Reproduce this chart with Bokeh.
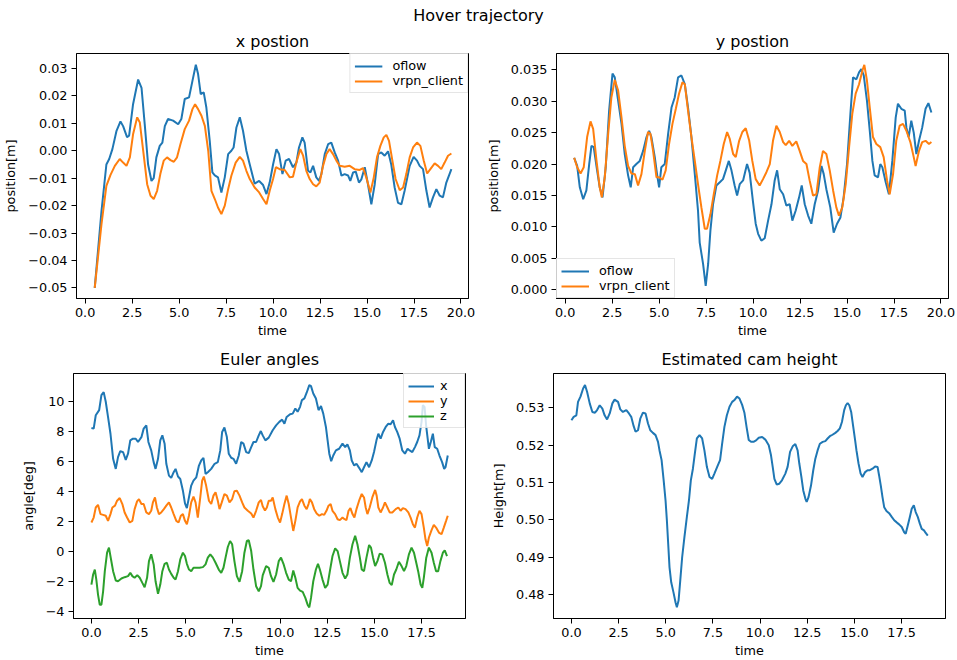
from bokeh.plotting import figure
from bokeh.layouts import column, row
from bokeh.models import Div, FixedTicker, Range1d
from bokeh.embed import file_html
from bokeh.resources import INLINE

BLUE = "#1f77b4"
ORANGE = "#ff7f0e"
GREEN = "#2ca02c"
FONT = "DejaVu Sans"

# ---------------- data: x position ----------------
xpos_oflow_t = [0.51, 0.87, 1.13, 1.28, 1.45, 1.67, 1.88, 2.02, 2.23, 2.34, 2.55, 2.82, 3.00, 3.17, 3.35, 3.53, 3.65, 3.79, 3.97, 4.11,
                4.24, 4.41, 4.68, 4.95, 5.12, 5.30, 5.53, 5.71, 5.89, 6.01, 6.15, 6.31, 6.45, 6.63, 6.77, 6.90, 7.07, 7.25, 7.43, 7.61,
                7.78, 7.90, 8.05, 8.23, 8.40, 8.58, 8.76, 9.02, 9.26, 9.47, 9.65, 9.82, 10.00, 10.18, 10.32, 10.50, 10.67, 10.85, 11.06, 11.24,
                11.38, 11.56, 11.68, 11.86, 11.99, 12.13, 12.30, 12.45, 12.57, 12.75, 12.93, 13.10, 13.28, 13.46, 13.64, 13.81, 13.99, 14.11, 14.26, 14.40,
                14.57, 14.70, 14.88, 15.05, 15.23, 15.41, 15.59, 15.76, 15.94, 16.12, 16.29, 16.47, 16.65, 16.83, 17.00, 17.27, 17.48, 17.66, 17.80, 17.98,
                18.16, 18.33, 18.51, 18.69, 18.87, 19.04, 19.22, 19.49]
xpos_oflow = [-0.050, -0.022, -0.005, -0.003, 0.0006, 0.0073, 0.0107, 0.009, 0.005, 0.0055, 0.017, 0.026, 0.023, 0.0097, -0.005, -0.011, -0.010, -0.0024, 0.0018, 0.003,
              0.009, 0.0116, 0.011, 0.0097, 0.0116, 0.0189, 0.0195, 0.0255, 0.0314, 0.028, 0.0207, 0.0213, 0.0158, 0.0036, -0.0079, -0.009, -0.0097, -0.0152, -0.0097, -0.0012,
              0.0, 0.0012, 0.0085, 0.0122, 0.0073, 0.0, -0.005, -0.012, -0.011, -0.0125, -0.0158, -0.0116, -0.005, 0.0006, -0.0012, -0.0085, -0.0036, -0.003, -0.006, -0.0043,
              0.0012, 0.0049, 0.003, -0.0073, -0.0079, -0.0055, -0.0097, -0.011, -0.0085, -0.0012, 0.0024, 0.003, -0.0006, -0.0036, -0.0091, -0.0085, -0.009, -0.011, -0.0079, -0.0076,
              -0.0116, -0.0104, -0.006, -0.0122, -0.0195, -0.0122, -0.0012, -0.0006, -0.0018, -0.0002, -0.005, -0.0134, -0.019, -0.0195, -0.0146, -0.0055, -0.0022, -0.0036, -0.0055, -0.0067,
              -0.0146, -0.0207, -0.017, -0.014, -0.0164, -0.017, -0.0116, -0.0067]

xpos_vrpn_t = [0.51, 0.87, 1.13, 1.35, 1.58, 1.84, 2.02, 2.20, 2.38, 2.55, 2.77, 2.91, 3.09, 3.30, 3.48, 3.65, 3.83, 4.00, 4.18, 4.36,
               4.54, 4.72, 4.89, 5.07, 5.30, 5.53, 5.71, 5.85, 6.01, 6.19, 6.37, 6.55, 6.72, 6.90, 7.07, 7.25, 7.43, 7.61, 7.78, 8.01,
               8.23, 8.40, 8.58, 8.76, 9.02, 9.26, 9.47, 9.65, 9.82, 10.00, 10.15, 10.35, 10.62, 10.89, 11.06, 11.24, 11.45, 11.60, 11.77, 11.95,
               12.13, 12.30, 12.48, 12.66, 12.84, 13.01, 13.19, 13.37, 13.55, 13.81, 14.08, 14.34, 14.61, 14.79, 14.96, 15.18, 15.36, 15.53, 15.71, 15.89,
               16.03, 16.17, 16.35, 16.52, 16.74, 16.92, 17.09, 17.27, 17.45, 17.66, 17.84, 18.02, 18.20, 18.37, 18.60, 18.78, 18.95, 19.13, 19.31, 19.49]
xpos_vrpn = [-0.050, -0.0268, -0.0128, -0.0088, -0.0055, -0.003, -0.0043, -0.0055, -0.0024, 0.006, 0.0122, 0.0103, 0.0, -0.0122, -0.0164, -0.0176, -0.0146, -0.0085, -0.0036, -0.0024,
             -0.0034, -0.004, -0.0024, 0.0024, 0.0079, 0.011, 0.0152, 0.017, 0.0152, 0.0128, 0.0091, 0.0, -0.0146, -0.0176, -0.0207, -0.0231, -0.020, -0.014, -0.0091, -0.0043,
             -0.0022, -0.0036, -0.0073, -0.0103, -0.0134, -0.0152, -0.0176, -0.0195, -0.0146, -0.0103, -0.006, -0.0067, -0.007, -0.0097, -0.0095, -0.0043, 0.0006, -0.0018, -0.0073, -0.0103,
             -0.0122, -0.013, -0.0116, -0.0055, -0.0012, 0.0006, -0.0012, -0.0036, -0.0055, -0.0058, -0.0055, -0.0067, -0.007, -0.0063, -0.0097, -0.0152, -0.0097, -0.0024, 0.0018, 0.0049,
             0.0058, 0.0036, -0.0036, -0.0103, -0.0144, -0.0134, -0.0085, -0.0024, 0.0012, 0.003, 0.0018, -0.0036, -0.0083, -0.0067, -0.0046, -0.0055, -0.0067, -0.0043, -0.0018, -0.001]

# ---------------- data: y position ----------------
ypos_oflow_t = [0.48, 0.64, 0.78, 0.96, 1.13, 1.28, 1.40, 1.52, 1.70, 1.84, 1.99, 2.16, 2.34, 2.52, 2.64, 2.82, 3.00, 3.17, 3.35, 3.49,
                3.62, 3.79, 3.97, 4.15, 4.33, 4.47, 4.59, 4.77, 4.89, 5.00, 5.12, 5.30, 5.48, 5.66, 5.83, 6.01, 6.19, 6.37, 6.54, 6.72,
                6.90, 7.07, 7.16, 7.34, 7.48, 7.61, 7.73, 7.87, 8.05, 8.23, 8.40, 8.55, 8.71, 8.85, 9.02, 9.15, 9.29, 9.47, 9.68, 9.82,
                10.00, 10.14, 10.27, 10.44, 10.62, 10.80, 10.98, 11.15, 11.28, 11.42, 11.60, 11.77, 11.95, 12.09, 12.27, 12.45, 12.59, 12.75, 12.93, 13.10,
                13.28, 13.46, 13.64, 13.76, 13.90, 14.11, 14.29, 14.47, 14.65, 14.82, 15.00, 15.18, 15.32, 15.50, 15.64, 15.76, 15.89, 16.06, 16.21, 16.35,
                16.47, 16.65, 16.77, 16.88, 17.06, 17.23, 17.41, 17.59, 17.71, 17.89, 18.07, 18.16, 18.28, 18.42, 18.55, 18.69, 18.83, 19.00, 19.18, 19.33, 19.49]
ypos_oflow = [0.021, 0.0197, 0.0163, 0.0144, 0.0158, 0.020, 0.0229, 0.0227, 0.019, 0.0163, 0.0147, 0.0195, 0.0285, 0.0344, 0.0338, 0.0301, 0.0264, 0.0216, 0.0182, 0.0163,
              0.0195, 0.020, 0.0205, 0.0221, 0.0243, 0.0253, 0.0243, 0.0211, 0.0184, 0.0163, 0.0195, 0.020, 0.0248, 0.029, 0.0306, 0.0338, 0.0341, 0.0327, 0.029, 0.0243,
              0.0184, 0.0126, 0.0075, 0.0041, 0.0006, 0.0041, 0.0094, 0.0136, 0.0166, 0.0171, 0.0176, 0.019, 0.0205, 0.019, 0.0166, 0.015, 0.0168, 0.0174, 0.020, 0.0186,
              0.0139, 0.0105, 0.0089, 0.0078, 0.0082, 0.011, 0.0136, 0.0174, 0.019, 0.016, 0.0152, 0.0134, 0.0136, 0.011, 0.0126, 0.0147, 0.0166, 0.0136, 0.0118, 0.0105,
              0.0136, 0.0158, 0.0197, 0.0184, 0.016, 0.0131, 0.0091, 0.0105, 0.0115, 0.0147, 0.020, 0.028, 0.0338, 0.0335, 0.0346, 0.0351, 0.0341, 0.0301, 0.0253, 0.0205,
              0.0182, 0.0179, 0.020, 0.0195, 0.0171, 0.0152, 0.0205, 0.0274, 0.0296, 0.0288, 0.0285, 0.0258, 0.0243, 0.0269, 0.025, 0.0216, 0.0237, 0.0258, 0.0288, 0.0297, 0.0282]

ypos_vrpn_t = [0.48, 0.64, 0.82, 0.99, 1.17, 1.35, 1.49, 1.67, 1.84, 1.95, 2.11, 2.29, 2.46, 2.64, 2.82, 3.00, 3.17, 3.35, 3.53, 3.71,
               3.88, 4.06, 4.24, 4.41, 4.54, 4.68, 4.86, 5.00, 5.18, 5.35, 5.53, 5.71, 5.89, 6.06, 6.24, 6.37, 6.54, 6.72, 6.90, 7.07,
               7.25, 7.43, 7.55, 7.73, 7.91, 8.09, 8.26, 8.44, 8.62, 8.76, 8.94, 9.08, 9.26, 9.43, 9.61, 9.79, 9.96, 10.14, 10.35, 10.53,
               10.71, 10.89, 11.06, 11.24, 11.42, 11.60, 11.74, 11.92, 12.09, 12.30, 12.48, 12.66, 12.84, 13.01, 13.19, 13.37, 13.55, 13.72, 13.90, 14.08,
               14.26, 14.43, 14.57, 14.75, 14.93, 15.11, 15.28, 15.46, 15.64, 15.82, 15.92, 16.06, 16.21, 16.38, 16.56, 16.77, 16.95, 17.13, 17.27, 17.45,
               17.62, 17.80, 17.98, 18.16, 18.37, 18.55, 18.65, 18.83, 19.00, 19.18, 19.36, 19.49]
ypos_vrpn = [0.021, 0.0195, 0.0185, 0.0195, 0.0243, 0.0268, 0.0256, 0.0205, 0.0163, 0.0147, 0.0179, 0.0248, 0.0306, 0.0334, 0.0317, 0.0274, 0.0229, 0.0197, 0.0185, 0.0184,
             0.0166, 0.0184, 0.0221, 0.0251, 0.0248, 0.0221, 0.0179, 0.0179, 0.0175, 0.019, 0.0232, 0.0264, 0.0288, 0.0312, 0.033, 0.0327, 0.0285, 0.0243, 0.0205, 0.0168,
             0.0131, 0.0097, 0.0097, 0.012, 0.0152, 0.0182, 0.0205, 0.0232, 0.0251, 0.024, 0.0216, 0.0211, 0.0237, 0.0251, 0.0257, 0.0238, 0.0205, 0.0176, 0.0166, 0.0176,
             0.0187, 0.020, 0.0237, 0.0261, 0.0251, 0.0235, 0.023, 0.0237, 0.0229, 0.0236, 0.0221, 0.0205, 0.020, 0.0174, 0.015, 0.0152, 0.0195, 0.0221, 0.0216, 0.019,
             0.0158, 0.0131, 0.0118, 0.0131, 0.0168, 0.0227, 0.028, 0.0312, 0.0327, 0.0349, 0.0358, 0.0333, 0.029, 0.0243, 0.0232, 0.0227, 0.0211, 0.0174, 0.0152, 0.0184,
             0.0237, 0.0261, 0.0264, 0.0253, 0.0235, 0.0211, 0.0197, 0.0221, 0.0235, 0.0237, 0.0232, 0.0235]

# ---------------- data: Euler angles ----------------
euler_x_t = [0.00, 0.12, 0.23, 0.41, 0.53, 0.65, 0.76, 0.88, 1.01, 1.15, 1.29, 1.41, 1.53, 1.68, 1.82, 1.94, 2.06, 2.20, 2.35, 2.47,
             2.65, 2.77, 2.91, 3.02, 3.17, 3.30, 3.40, 3.53, 3.65, 3.76, 3.88, 3.97, 4.11, 4.23, 4.36, 4.46, 4.59, 4.71, 4.85, 4.96,
             5.06, 5.17, 5.29, 5.41, 5.56, 5.70, 5.82, 5.94, 6.05, 6.17, 6.35, 6.53, 6.70, 6.83, 6.93, 7.05, 7.18, 7.28, 7.41, 7.53,
             7.67, 7.81, 7.94, 8.06, 8.20, 8.34, 8.47, 8.59, 8.73, 8.87, 8.98, 9.08, 9.22, 9.40, 9.61, 9.79, 9.96, 10.11, 10.23, 10.35,
             10.53, 10.67, 10.81, 10.93, 11.06, 11.16, 11.29, 11.41, 11.55, 11.64, 11.76, 11.90, 12.04, 12.17, 12.29, 12.43, 12.52, 12.61, 12.71, 12.82,
             12.96, 13.13, 13.31, 13.45, 13.57, 13.70, 13.80, 13.93, 14.05, 14.19, 14.33, 14.45, 14.58, 14.72, 14.86, 14.98, 15.11, 15.21, 15.33, 15.46,
             15.60, 15.74, 15.86, 15.99, 16.09, 16.21, 16.34, 16.48, 16.62, 16.76, 16.87, 17.01, 17.15, 17.27, 17.39, 17.50, 17.57, 17.66, 17.75, 17.89,
             17.99, 18.10, 18.20, 18.33, 18.45, 18.59, 18.70, 18.77, 18.89]
euler_x = [8.21, 8.17, 9.06, 9.40, 10.40, 10.60, 9.96, 8.95, 7.83, 6.16, 5.49, 6.27, 6.67, 6.60, 6.09, 6.50, 7.39, 7.50, 7.50, 7.28,
           7.60, 8.17, 8.39, 7.28, 6.72, 5.94, 5.49, 6.16, 7.39, 7.72, 7.17, 5.83, 5.04, 4.89, 5.27, 5.49, 4.98, 4.82, 4.04, 3.19,
           2.88, 3.59, 4.38, 4.71, 4.93, 5.71, 6.05, 6.23, 5.16, 5.27, 5.49, 5.83, 5.94, 6.72, 7.95, 8.24, 7.61, 6.50, 6.23, 6.16,
           5.83, 6.38, 7.28, 7.17, 6.61, 6.54, 6.94, 7.28, 7.28, 7.72, 8.01, 7.72, 7.39, 7.57, 8.06, 8.39, 8.62, 8.77, 8.50, 8.95,
           9.13, 9.17, 9.51, 9.29, 9.62, 10.07, 10.18, 10.56, 11.07, 11.00, 10.51, 10.18, 9.40, 9.67, 9.17, 8.28, 7.39, 6.50, 6.00, 6.38,
           6.72, 6.83, 7.17, 6.94, 7.12, 6.72, 6.05, 5.71, 5.83, 5.56, 5.27, 5.60, 5.94, 5.60, 6.05, 6.61, 7.39, 7.83, 7.50, 7.95,
           8.28, 8.50, 8.46, 8.73, 8.28, 7.95, 7.50, 6.72, 6.50, 6.83, 6.72, 6.61, 6.94, 7.28, 7.72, 8.62, 9.73, 9.62, 8.28, 6.83,
           7.28, 7.83, 6.94, 6.83, 6.38, 5.94, 5.49, 5.60, 6.38]

euler_y_t = [0.00, 0.12, 0.23, 0.35, 0.48, 0.62, 0.76, 0.88, 1.01, 1.11, 1.25, 1.36, 1.50, 1.64, 1.76, 1.89, 2.03, 2.17, 2.29, 2.42,
             2.52, 2.65, 2.77, 2.91, 3.05, 3.17, 3.26, 3.37, 3.47, 3.58, 3.70, 3.84, 3.97, 4.11, 4.23, 4.36, 4.50, 4.62, 4.74, 4.85,
             4.96, 5.06, 5.17, 5.29, 5.41, 5.52, 5.64, 5.77, 5.87, 5.96, 6.08, 6.23, 6.35, 6.47, 6.58, 6.70, 6.79, 6.91, 7.05, 7.18,
             7.32, 7.46, 7.58, 7.71, 7.85, 7.99, 8.11, 8.29, 8.47, 8.59, 8.73, 8.87, 8.99, 9.08, 9.20, 9.30, 9.40, 9.52, 9.61, 9.75,
             9.88, 10.00, 10.11, 10.23, 10.35, 10.46, 10.58, 10.70, 10.81, 10.93, 11.06, 11.16, 11.29, 11.41, 11.51, 11.58, 11.69, 11.81, 11.94, 12.08,
             12.22, 12.34, 12.46, 12.57, 12.68, 12.78, 12.92, 13.05, 13.17, 13.31, 13.42, 13.52, 13.63, 13.73, 13.84, 13.94, 14.05, 14.19, 14.33, 14.45,
             14.54, 14.63, 14.75, 14.89, 15.04, 15.12, 15.21, 15.33, 15.46, 15.56, 15.69, 15.81, 15.95, 16.13, 16.27, 16.39, 16.51, 16.65, 16.80, 16.92,
             17.04, 17.15, 17.27, 17.39, 17.50, 17.62, 17.71, 17.80, 17.89, 18.03, 18.15, 18.27, 18.42, 18.56, 18.68, 18.80, 18.89]
euler_y = [1.92, 2.25, 2.92, 3.10, 2.48, 2.43, 2.37, 2.03, 2.48, 2.92, 3.04, 3.37, 3.55, 3.15, 2.59, 2.25, 1.92, 2.03, 2.81, 3.33,
           3.48, 3.15, 3.15, 2.59, 2.48, 2.70, 3.26, 3.59, 2.92, 2.48, 2.59, 2.81, 3.04, 3.26, 2.92, 2.48, 2.03, 1.92, 2.37, 2.48,
           2.03, 1.81, 2.37, 3.26, 3.64, 3.26, 2.25, 3.59, 4.71, 4.98, 4.38, 3.37, 3.15, 3.71, 3.93, 3.37, 2.81, 3.26, 3.82, 3.71,
           3.26, 3.48, 4.00, 4.04, 3.71, 3.26, 2.92, 2.70, 2.52, 2.25, 2.70, 3.26, 3.42, 3.00, 2.72, 2.92, 3.37, 3.37, 3.59, 2.81,
           2.25, 1.92, 2.48, 3.15, 3.71, 3.15, 2.25, 1.36, 2.03, 2.92, 3.33, 3.48, 3.04, 2.81, 3.15, 3.48, 3.26, 2.81, 2.52, 2.37,
           2.48, 2.43, 2.70, 3.04, 3.15, 2.70, 2.48, 2.14, 2.08, 2.25, 2.14, 2.08, 2.70, 2.88, 2.48, 2.25, 2.81, 3.37, 3.82, 3.59,
           2.92, 2.48, 2.92, 3.59, 4.09, 3.71, 2.92, 2.59, 2.92, 3.26, 2.92, 2.59, 2.59, 2.81, 2.92, 2.70, 2.88, 2.81, 2.59, 2.25,
           1.81, 1.58, 2.25, 2.70, 2.48, 1.58, 0.80, 0.36, 0.92, 1.41, 1.76, 1.58, 1.25, 1.14, 1.58, 2.03, 2.37]

euler_z_t = [0.00, 0.09, 0.18, 0.26, 0.35, 0.44, 0.53, 0.62, 0.71, 0.83, 0.93, 1.04, 1.15, 1.29, 1.41, 1.59, 1.76, 1.94, 2.06, 2.17,
             2.29, 2.43, 2.56, 2.70, 2.82, 2.95, 3.05, 3.17, 3.30, 3.40, 3.53, 3.65, 3.76, 3.88, 4.00, 4.11, 4.23, 4.36, 4.46, 4.59,
             4.71, 4.85, 4.96, 5.06, 5.17, 5.29, 5.41, 5.56, 5.73, 5.91, 6.05, 6.17, 6.30, 6.44, 6.58, 6.75, 6.88, 7.00, 7.11, 7.23,
             7.35, 7.46, 7.58, 7.71, 7.85, 7.99, 8.11, 8.24, 8.34, 8.47, 8.59, 8.73, 8.87, 8.99, 9.08, 9.26, 9.40, 9.52, 9.65, 9.79,
             9.93, 10.05, 10.18, 10.32, 10.46, 10.58, 10.70, 10.81, 10.93, 11.06, 11.20, 11.34, 11.46, 11.55, 11.64, 11.76, 11.90, 12.01, 12.11, 12.25,
             12.39, 12.52, 12.64, 12.78, 12.92, 13.05, 13.17, 13.31, 13.45, 13.57, 13.70, 13.84, 13.98, 14.10, 14.23, 14.33, 14.45, 14.58, 14.72, 14.82,
             14.93, 15.04, 15.16, 15.28, 15.42, 15.56, 15.69, 15.81, 15.92, 16.04, 16.16, 16.30, 16.44, 16.57, 16.69, 16.83, 16.97, 17.10, 17.22, 17.32,
             17.45, 17.54, 17.62, 17.75, 17.89, 18.03, 18.15, 18.27, 18.38, 18.50, 18.63, 18.73, 18.85]
euler_z = [-2.21, -1.54, -1.21, -1.88, -2.88, -3.55, -3.55, -2.66, -1.32, -0.09, 0.25, -0.54, -1.32, -1.94, -1.99, -1.81, -1.72, -1.65, -1.43, -1.65,
           -1.76, -1.58, -1.76, -2.10, -2.39, -1.76, -0.65, -0.20, -0.87, -1.99, -2.83, -2.21, -1.32, -0.83, -0.76, -1.21, -1.50, -1.76, -1.88, -1.32,
           -0.54, -0.09, -0.31, -0.83, -1.21, -1.32, -1.09, -1.09, -1.09, -1.05, -0.87, -0.42, -0.20, -0.42, -0.76, -1.21, -1.43, -1.09, -0.42, 0.29,
           0.69, 0.47, -0.65, -1.65, -2.03, -1.32, -0.09, 0.69, 0.74, 0.02, -1.21, -2.32, -2.66, -2.32, -1.60, -0.98, -1.09, -1.65, -2.03, -1.54,
           -0.65, -0.42, -0.83, -1.43, -1.88, -1.99, -1.27, -1.76, -2.43, -2.61, -2.70, -3.10, -3.55, -3.73, -3.10, -1.99, -1.21, -0.83, -1.21, -1.88,
           -2.43, -2.21, -1.32, -0.31, 0.20, 0.02, -0.65, -1.43, -1.81, -1.54, -0.42, 0.47, 1.03, 0.47, -0.42, -1.21, -1.32, -0.42, 0.42, 0.25,
           -0.42, -0.98, -0.65, -0.16, -0.20, -0.76, -1.54, -2.10, -2.25, -1.54, -1.21, -0.69, -0.98, -1.32, -0.98, -0.20, 0.25, -0.09, -0.76, -1.32,
           -2.21, -2.43, -1.76, -0.42, 0.25, -0.09, -0.76, -1.32, -1.32, -0.65, -0.09, 0.07, -0.31]

# ---------------- data: estimated cam height ----------------
height_t = [0.00, 0.12, 0.26, 0.35, 0.48, 0.62, 0.72, 0.83, 0.97, 1.11, 1.25, 1.36, 1.50, 1.64, 1.76, 1.89, 2.03, 2.17, 2.29, 2.47,
            2.59, 2.73, 2.91, 3.05, 3.17, 3.30, 3.40, 3.53, 3.65, 3.79, 3.93, 4.06, 4.18, 4.32, 4.46, 4.59, 4.67, 4.78, 4.89, 4.99,
            5.06, 5.13, 5.20, 5.29, 5.41, 5.52, 5.59, 5.68, 5.77, 5.87, 5.99, 6.12, 6.23, 6.33, 6.44, 6.54, 6.65, 6.79, 6.93, 7.05,
            7.18, 7.32, 7.46, 7.58, 7.76, 7.88, 7.99, 8.11, 8.24, 8.38, 8.52, 8.66, 8.78, 8.91, 9.05, 9.17, 9.29, 9.40, 9.52, 9.65,
            9.79, 9.93, 10.11, 10.28, 10.46, 10.58, 10.67, 10.76, 10.88, 11.02, 11.16, 11.34, 11.46, 11.59, 11.73, 11.87, 11.99, 12.08, 12.19, 12.29,
            12.40, 12.47, 12.57, 12.70, 12.82, 12.93, 13.05, 13.17, 13.32, 13.46, 13.58, 13.70, 13.84, 13.99, 14.11, 14.23, 14.34, 14.46, 14.55, 14.64,
            14.73, 14.83, 14.94, 15.04, 15.11, 15.22, 15.33, 15.43, 15.57, 15.70, 15.82, 15.96, 16.10, 16.23, 16.31, 16.40, 16.49, 16.58, 16.70, 16.84,
            16.98, 17.11, 17.23, 17.37, 17.51, 17.64, 17.72, 17.81, 17.94, 18.04, 18.15, 18.25, 18.36, 18.47, 18.57, 18.69, 18.78, 18.89]
height = [0.5267, 0.5276, 0.5280, 0.5316, 0.5330, 0.5352, 0.5361, 0.5343, 0.5312, 0.5289, 0.5287, 0.5294, 0.5307, 0.5298, 0.5280, 0.5269, 0.5285, 0.5312, 0.5322, 0.5316,
          0.5296, 0.5289, 0.5294, 0.5285, 0.5276, 0.5251, 0.5236, 0.5240, 0.5271, 0.5287, 0.5285, 0.5258, 0.5240, 0.5233, 0.5227, 0.5209, 0.5186, 0.5160, 0.5106, 0.5052,
          0.4999, 0.4936, 0.4873, 0.4833, 0.4806, 0.4779, 0.4766, 0.4784, 0.4838, 0.4900, 0.4954, 0.5008, 0.5052, 0.5106, 0.5137, 0.5177, 0.5218, 0.5227, 0.5218, 0.5186,
          0.5142, 0.5115, 0.5110, 0.5124, 0.5146, 0.5160, 0.5204, 0.5249, 0.5280, 0.5303, 0.5316, 0.5322, 0.5330, 0.5325, 0.5308, 0.5287, 0.5247, 0.5214, 0.5209, 0.5209,
          0.5213, 0.5220, 0.5222, 0.5215, 0.5200, 0.5173, 0.5142, 0.5110, 0.5095, 0.5097, 0.5106, 0.5124, 0.5142, 0.5182, 0.5197, 0.5203, 0.5186, 0.5151, 0.5115, 0.5079,
          0.5057, 0.5048, 0.5061, 0.5092, 0.5133, 0.5164, 0.5186, 0.5204, 0.5209, 0.5211, 0.5218, 0.5224, 0.5228, 0.5233, 0.5238, 0.5245, 0.5262, 0.5294, 0.5307, 0.5313,
          0.5307, 0.5289, 0.5249, 0.5213, 0.5186, 0.5151, 0.5124, 0.5115, 0.5128, 0.5133, 0.5133, 0.5137, 0.5143, 0.5142, 0.5119, 0.5092, 0.5061, 0.5034, 0.5024, 0.5018,
          0.5008, 0.4999, 0.4994, 0.4988, 0.4981, 0.4967, 0.4963, 0.4981, 0.5008, 0.5030, 0.5039, 0.5021, 0.5008, 0.4990, 0.4976, 0.4972, 0.4965, 0.4958]

# ---------------- ticks ----------------
xt_top = [0.0, 2.5, 5.0, 7.5, 10.0, 12.5, 15.0, 17.5, 20.0]
xt_top_labels = ["0.0", "2.5", "5.0", "7.5", "10.0", "12.5", "15.0", "17.5", "20.0"]
xt_bot = [0.0, 2.5, 5.0, 7.5, 10.0, 12.5, 15.0, 17.5]
xt_bot_labels = ["0.0", "2.5", "5.0", "7.5", "10.0", "12.5", "15.0", "17.5"]
yt_xpos = [-0.05, -0.04, -0.03, -0.02, -0.01, 0.0, 0.01, 0.02, 0.03]
yt_xpos_labels = ["\u22120.05", "\u22120.04", "\u22120.03", "\u22120.02", "\u22120.01", "0.00", "0.01", "0.02", "0.03"]
yt_ypos = [0.0, 0.005, 0.01, 0.015, 0.02, 0.025, 0.03, 0.035]
yt_ypos_labels = ["0.000", "0.005", "0.010", "0.015", "0.020", "0.025", "0.030", "0.035"]
yt_euler = [-4, -2, 0, 2, 4, 6, 8, 10]
yt_euler_labels = ["\u22124", "\u22122", "0", "2", "4", "6", "8", "10"]
yt_height = [0.48, 0.49, 0.50, 0.51, 0.52, 0.53]
yt_height_labels = ["0.48", "0.49", "0.50", "0.51", "0.52", "0.53"]

TICK_FS = "12.8px"
TITLE_FS = "16px"


def make_fig(title, xr, yr, left, right, bottom, title_standoff):
    p = figure(frame_width=392, frame_height=245,
               min_border_left=left, min_border_right=right,
               min_border_top=0, min_border_bottom=bottom,
               x_range=Range1d(*xr), y_range=Range1d(*yr),
               output_backend="svg", toolbar_location=None, title=title)
    p.title.align = "center"
    p.title.text_font = FONT
    p.title.text_font_size = TITLE_FS
    p.title.text_font_style = "normal"
    p.title.text_color = "black"
    p.title.standoff = title_standoff
    p.outline_line_color = "black"
    p.outline_line_alpha = 1.0
    p.outline_line_width = 1
    p.xgrid.visible = False
    p.ygrid.visible = False
    p.background_fill_color = "white"
    p.border_fill_color = "white"
    for ax in (p.xaxis[0], p.yaxis[0]):
        ax.axis_line_color = "black"
        ax.major_tick_line_color = "black"
        ax.major_tick_out = 5
        ax.major_tick_in = 0
        ax.minor_tick_line_color = None
        ax.major_label_text_font = FONT
        ax.major_label_text_font_size = TICK_FS
        ax.major_label_text_color = "black"
        ax.axis_label_text_font = FONT
        ax.axis_label_text_font_size = TICK_FS
        ax.axis_label_text_font_style = "normal"
        ax.axis_label_text_color = "black"
        ax.major_label_standoff = 4
    p.xaxis.axis_label_standoff = 3
    p.yaxis.axis_label_standoff = 7
    return p


def set_ticks(p, xt, xl, yt, yl, xlabel, ylabel):
    p.xaxis.ticker = FixedTicker(ticks=xt)
    p.xaxis.major_label_overrides = dict(zip(xt, xl))
    p.yaxis.ticker = FixedTicker(ticks=yt)
    p.yaxis.major_label_overrides = dict(zip(yt, yl))
    p.xaxis.axis_label = xlabel
    p.yaxis.axis_label = ylabel


def style_legend(p, loc, glyph_w, standoff, spacing):
    lg = p.legend[0]
    lg.location = loc
    lg.margin = 0
    lg.padding = 4
    lg.spacing = spacing
    lg.border_line_color = "#cccccc"
    lg.border_line_width = 1
    lg.background_fill_alpha = 0.8
    lg.label_text_font = FONT
    lg.label_text_font_size = TICK_FS
    lg.label_text_color = "black"
    lg.label_height = 12
    lg.glyph_height = 12
    lg.glyph_width = glyph_w
    lg.label_standoff = standoff


LW = 2.0

p1 = make_fig("x postion", (-0.46, 20.4), (-0.0539, 0.0355), 73, 13, 45, 6)
set_ticks(p1, xt_top, xt_top_labels, yt_xpos, yt_xpos_labels, "time", "position[m]")
p1.line(xpos_oflow_t, xpos_oflow, line_color=BLUE, line_width=LW, legend_label="oflow")
p1.line(xpos_vrpn_t, xpos_vrpn, line_color=ORANGE, line_width=LW, legend_label="vrpn_client")
style_legend(p1, "top_right", 28, 10, 0)

p2 = make_fig("y postion", (-0.46, 20.4), (-0.0014, 0.0376), 75, 12, 45, 6)
set_ticks(p2, xt_top, xt_top_labels, yt_ypos, yt_ypos_labels, "time", "position[m]")
p2.line(ypos_oflow_t, ypos_oflow, line_color=BLUE, line_width=LW, legend_label="oflow")
p2.line(ypos_vrpn_t, ypos_vrpn, line_color=ORANGE, line_width=LW, legend_label="vrpn_client")
style_legend(p2, "bottom_left", 28, 10, 0)

p3 = make_fig("Euler angles", (-0.95, 19.83), (-4.47, 11.84), 73, 13, 42, 9)
set_ticks(p3, xt_bot, xt_bot_labels, yt_euler, yt_euler_labels, "time", "angle[deg]")
p3.line(euler_x_t, euler_x, line_color=BLUE, line_width=LW, legend_label="x")
p3.line(euler_y_t, euler_y, line_color=ORANGE, line_width=LW, legend_label="y")
p3.line(euler_z_t, euler_z, line_color=GREEN, line_width=LW, legend_label="z")
style_legend(p3, "top_right", 26, 6, -2)

p4 = make_fig("Estimated cam height", (-0.95, 19.83), (0.4736, 0.5392), 75, 12, 42, 9)
set_ticks(p4, xt_bot, xt_bot_labels, yt_height, yt_height_labels, "time", "Height[m]")
p4.line(height_t, height, line_color=BLUE, line_width=LW)

suptitle = Div(text="Hover trajectory", width=957, height=26, margin=0,
               styles={"font-family": FONT, "font-size": TITLE_FS, "text-align": "center",
                       "width": "957px", "line-height": "32px", "color": "black"})

layout = column(suptitle, row(p1, p2), row(p3, p4))
layout.spacing = 0

with open("out.html", "w") as f:
    f.write(file_html(layout, INLINE))
